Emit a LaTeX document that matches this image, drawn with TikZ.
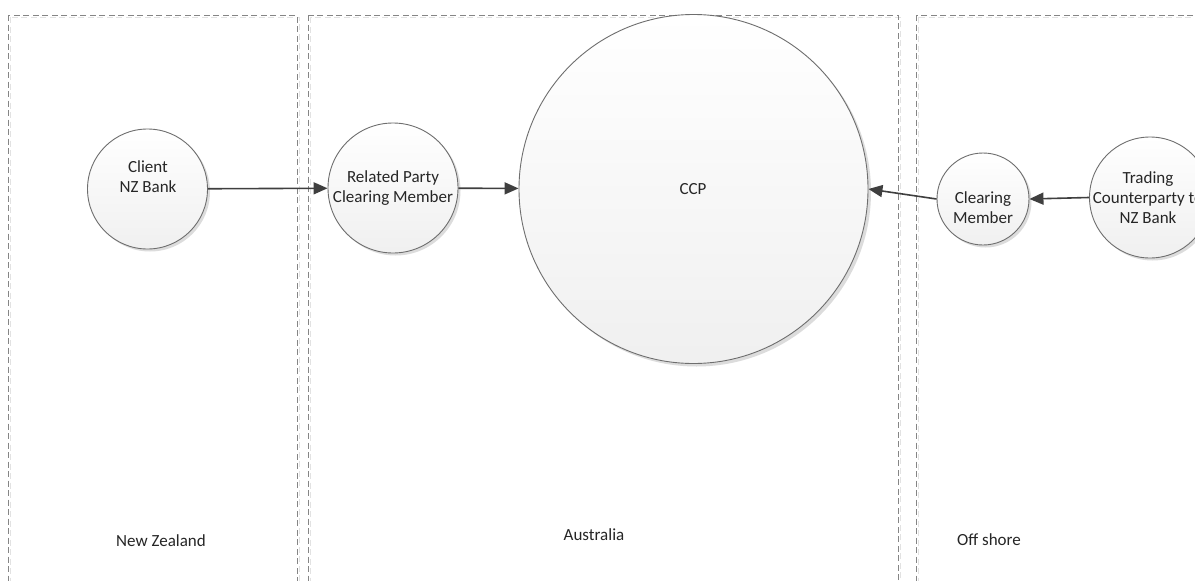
\documentclass[tikz,border=0pt]{standalone}
\usepackage{fontspec}
\setmainfont{Carlito}
\usetikzlibrary{arrows.meta}
\definecolor{panelc}{HTML}{858585}
\definecolor{panelsh}{HTML}{E2E2E2}
\definecolor{circc}{HTML}{6E6E6E}
\definecolor{circsh}{HTML}{DCDCDC}
\definecolor{linec}{HTML}{3F3F3F}
\definecolor{textc}{HTML}{262626}
\tikzset{
  panel/.style={draw=panelc, line width=0.9pt, dash pattern=on 6pt off 3.5pt},
  panelshadow/.style={draw=panelsh, line width=0.9pt, dash pattern=on 6pt off 3.5pt},
  ent/.style={circle, draw=circc, line width=0.9pt, top color=white, bottom color=black!6, inner sep=0pt},
  entshadow/.style={circle, fill=circsh, draw=none, inner sep=0pt},
  lbl/.style={text=textc, font=\fontsize{17}{20}\selectfont, align=center, inner sep=0pt},
  flow/.style={draw=linec, line width=1.6pt, -{Triangle[length=14pt,width=12pt]}, color=linec},
}
\begin{document}
\begin{tikzpicture}[x=1pt,y=-1pt]
\useasboundingbox (0,0) rectangle (1195,581);
\clip (0,0) rectangle (1195,581);
\fill[white] (0,0) rectangle (1195,581);
% panel shadows
\draw[panelshadow] (10,17) rectangle (299,620);
\draw[panelshadow] (310,17) rectangle (900,620);
\draw[panelshadow] (918,17) rectangle (1240,620);
% panels
\draw[panel] (8,15) rectangle (297,620);
\draw[panel] (308,15) rectangle (898,620);
\draw[panel] (916,15) rectangle (1238,620);
% region labels
\node[lbl] (nz) at (161,541) {New Zealand};
\node[lbl] (au) at (594,535) {Australia};
\node[lbl] (os) at (989,540) {Off shore};
% circle shadows
\node[entshadow, minimum size=120pt] (clientsh) at (150,191.5) {};
\node[entshadow, minimum size=130pt] (relatedsh) at (395.5,190.5) {};
\node[entshadow, minimum size=349pt] (ccpsh) at (696.5,192) {};
\node[entshadow, minimum size=92pt] (cmsh) at (985.5,201.5) {};
\node[entshadow, minimum size=121pt] (tradingsh) at (1152.5,200) {};
% circles
\node[ent, minimum size=120pt] (client) at (147.5,189) {};
\node[ent, minimum size=130pt] (related) at (393,188) {};
\node[ent, minimum size=349pt] (ccp) at (693.5,189) {};
\node[ent, minimum size=92pt] (cm) at (983,199) {};
\node[ent, minimum size=121pt] (trading) at (1150,197.5) {};
% texts
\node[lbl] (clientt) at (148,177) {Client\\NZ Bank};
\node[lbl] (relatedt) at (393,188) {Related Party\\Clearing Member};
\node[lbl] (ccpt) at (693,189) {CCP};
\node[lbl] (cmt) at (983,208) {Clearing\\Member};
\node[lbl] (tradingt) at (1148,198) {Trading\\Counterparty to\\NZ Bank};
% connectors
\draw[flow] (client) -- (related);
\draw[flow] (related) -- (ccp);
\draw[flow] (cm.west) -- (ccp.east);
\draw[flow] (trading.west) -- (cm.east);
\end{tikzpicture}
\end{document}
